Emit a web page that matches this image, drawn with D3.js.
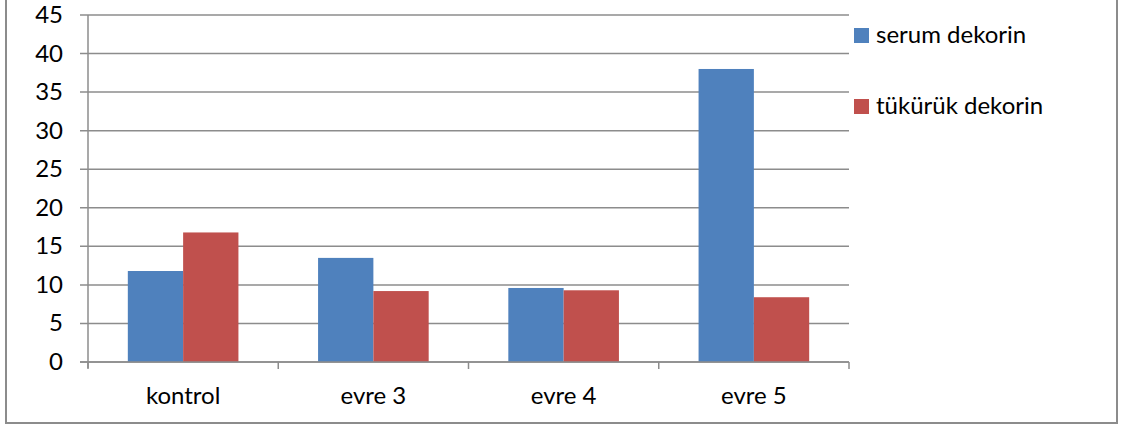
<!DOCTYPE html>
<html>
<head>
<meta charset="utf-8">
<script src="https://cdn.jsdelivr.net/npm/d3@7"></script>
<style>
  body { margin: 0; background: #fff; }
  svg { display: block; font-family: Lato, "Open Sans", sans-serif; }
</style>
</head>
<body>
<svg width="1127" height="428"></svg>
<script>
// values
var categories = ["kontrol", "evre 3", "evre 4", "evre 5"];
var seriesNames = ["serum dekorin", "tükürük dekorin"];
var serum = [11.8, 13.5, 9.6, 38.0];
var tukuruk = [16.8, 9.2, 9.3, 8.4];
var yTicks = [0, 5, 10, 15, 20, 25, 30, 35, 40, 45];
var colors = ["#4f81bd", "#c0504d"];

var svg = d3.select('svg');

// outer chart frame (top edge is off the picture)
svg.append('rect')
  .attr('x', 6).attr('y', -10)
  .attr('width', 1111).attr('height', 433)
  .attr('fill', 'none')
  .attr('stroke', '#8c8c8c')
  .attr('stroke-width', 2);

var plotLeft = 88, plotRight = 849, plotTop = 15, plotBottom = 362;

var y = d3.scaleLinear().domain([0, 45]).range([plotBottom, plotTop]);
var x0 = d3.scaleBand().domain(categories).range([plotLeft, plotRight]).paddingInner(0).paddingOuter(0);
var x1 = d3.scaleBand().domain(seriesNames).range([0, x0.bandwidth()]).paddingInner(0).paddingOuter(0.72);

// gridlines
svg.append('g')
  .selectAll('line')
  .data(yTicks)
  .join('line')
  .attr('x1', plotLeft - 8).attr('x2', plotRight)
  .attr('y1', d => y(d)).attr('y2', d => y(d))
  .attr('stroke', '#8c8c8c').attr('stroke-width', 1.5);

// y labels
svg.append('g')
  .selectAll('text')
  .data(yTicks)
  .join('text')
  .attr('x', 63).attr('y', d => y(d) + 8)
  .attr('text-anchor', 'end')
  .attr('font-size', 24)
  .attr('fill', '#000')
  .text(d => d);

// bars
var data = categories.map((c, i) => ({cat: c, vals: [serum[i], tukuruk[i]]}));
svg.append('g')
  .selectAll('g')
  .data(data)
  .join('g')
  .attr('transform', d => 'translate(' + x0(d.cat) + ',0)')
  .selectAll('rect')
  .data(d => d.vals.map((v, j) => ({name: seriesNames[j], v: v, j: j})))
  .join('rect')
  .attr('x', d => x1(d.name))
  .attr('width', x1.bandwidth())
  .attr('y', d => y(d.v))
  .attr('height', d => y(0) - y(d.v))
  .attr('fill', d => colors[d.j]);

// axes lines
svg.append('line')
  .attr('x1', plotLeft).attr('x2', plotLeft).attr('y1', plotTop).attr('y2', plotBottom + 6)
  .attr('stroke', '#8c8c8c').attr('stroke-width', 1.5);
svg.append('line')
  .attr('x1', plotLeft - 8).attr('x2', plotRight).attr('y1', plotBottom).attr('y2', plotBottom)
  .attr('stroke', '#8c8c8c').attr('stroke-width', 1.5);

// category ticks
var xTicks = categories.map(c => x0(c)).concat([plotRight]);
svg.append('g')
  .selectAll('line')
  .data(xTicks)
  .join('line')
  .attr('x1', d => d).attr('x2', d => d)
  .attr('y1', plotBottom).attr('y2', plotBottom + 7)
  .attr('stroke', '#8c8c8c').attr('stroke-width', 1.5);

// category labels
svg.append('g')
  .selectAll('text')
  .data(categories)
  .join('text')
  .attr('x', d => x0(d) + x0.bandwidth() / 2)
  .attr('y', 404)
  .attr('text-anchor', 'middle')
  .attr('font-size', 24)
  .text(d => d);

// legend
var legend = svg.append('g')
  .selectAll('g')
  .data(seriesNames)
  .join('g')
  .attr('transform', (d, i) => 'translate(854,' + (28 + i * 71) + ')');
legend.append('rect')
  .attr('width', 15).attr('height', 15)
  .attr('fill', (d, i) => colors[i]);
legend.append('text')
  .attr('x', 22).attr('y', 15)
  .attr('font-size', 24)
  .text(d => d);
</script>
</body>
</html>
